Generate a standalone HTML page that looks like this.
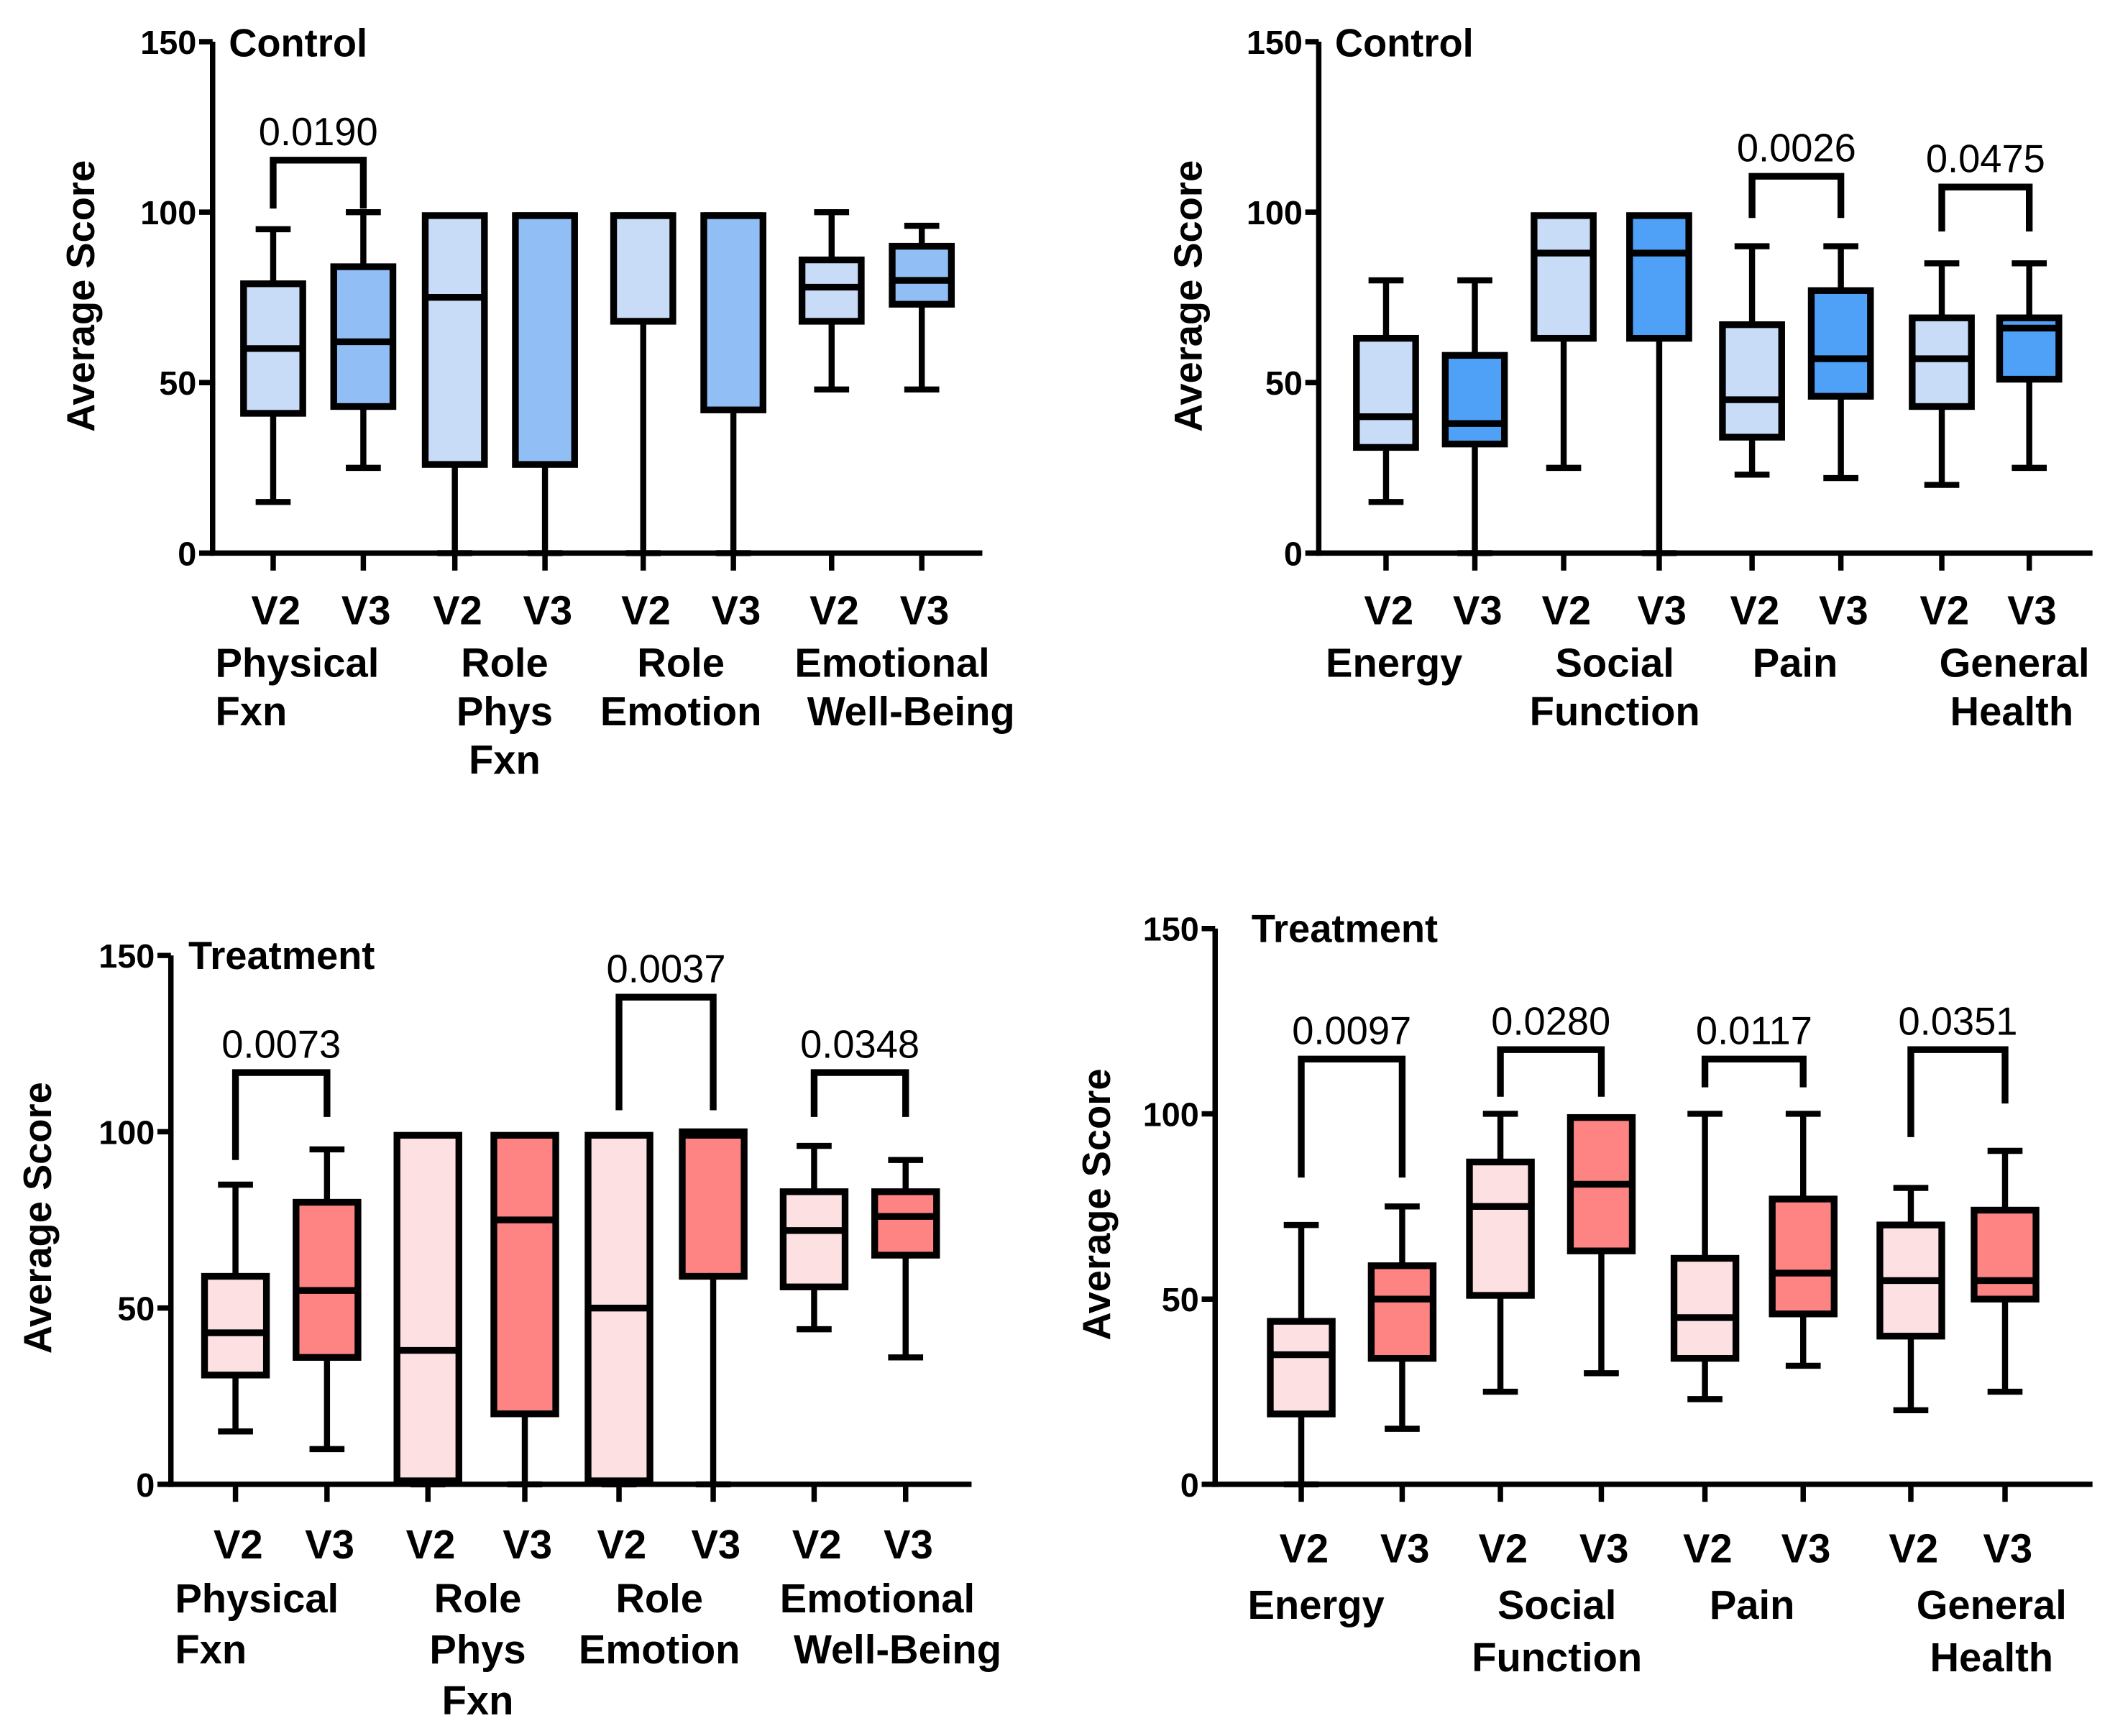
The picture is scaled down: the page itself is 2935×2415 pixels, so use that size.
<!DOCTYPE html>
<html><head><meta charset="utf-8"><style>
html,body{margin:0;padding:0;background:#fff}
svg{display:block}
text{font-family:"Liberation Sans",Arial,sans-serif}
</style></head><body>
<svg id="chart" width="2935" height="2415" viewBox="0 0 1568 1290" preserveAspectRatio="none" xmlns="http://www.w3.org/2000/svg"></svg>
<script>
// Panel 1: Control, first four domains
const p1Ticks = ["V2","V3","V2","V3","V2","V3","V2","V3"];
const p1Min = [15,25,0,0,0,0,48,48];
const p1Q1 = [41,43,26,26,68,42,68,73];
const p1Med = [60,62,75,99,99,99,78,80];
const p1Q3 = [79,84,99,99,99,99,86,90];
const p1Max = [95,100,99,99,99,99,100,96];
// Panel 2: Control, second four domains
const p2Min = [15,0,25,0,23,22,20,25];
const p2Q1 = [31,32,63,63,34,46,43,51];
const p2Med = [40,38,88,88,45,57,57,66];
const p2Q3 = [63,58,99,99,67,77,69,69];
const p2Max = [80,80,99,99,90,90,85,85];
// Panel 3: Treatment, first four domains
const p3Min = [15,10,0,0,0,0,44,36];
const p3Q1 = [31,36,1,20,1,59,56,65];
const p3Med = [43,55,38,75,50,99,72,76];
const p3Q3 = [59,80,99,99,99,100,83,83];
const p3Max = [85,95,99,99,99,100,96,92];
// Panel 4: Treatment, second four domains
const p4Min = [0,15,25,30,23,32,20,25];
const p4Q1 = [19,34,51,63,34,46,40,50];
const p4Med = [35,50,75,81,45,57,55,55];
const p4Q3 = [44,59,87,99,61,77,70,74];
const p4Max = [70,75,100,99,100,100,80,90];
const yTicks = [0,50,100,150];
const pvals1 = ["0.0190"], pvals2 = ["0.0026","0.0475"], pvals3 = ["0.0073","0.0037","0.0348"], pvals4 = ["0.0097","0.0280","0.0117","0.0351"];

const NS="http://www.w3.org/2000/svg";
const svg=document.getElementById('chart');
function mk(tag,attrs,parent,txt){const e=document.createElementNS(NS,tag);for(const k in attrs)e.setAttribute(k,attrs[k]);if(txt!==undefined)e.textContent=txt;(parent||svg).appendChild(e);return e;}

const panels=[
 {name:'control-panel-1',ax:158,y0:411,y150:31,xEnd:730,title:'Control',tx:170,ty:42,xs:[203,270,338,405,478,545,618,685],
  mins:p1Min,q1:p1Q1,med:p1Med,q3:p1Q3,max:p1Max,c2:'#c9dcf7',c3:'#91bff5',bw:44,
  ylabX:70,ylabY:220,tickLY:453,
  groups:[{l:['Physical','Fxn'],x:160,a:'start'},{l:['Role','Phys','Fxn'],x:375,a:'middle'},{l:['Role','Emotion'],x:506,a:'middle'},{l:['Emotional','Well-Being'],x:663,a:'middle',offs:[0,14]}],gy:492,gdy:36,
  sig:[{i:0,j:1,top:119,l1:155,l2:155,p:pvals1[0]}]},
 {name:'control-panel-2',ax:980,y0:411,y150:31,xEnd:1555,title:'Control',tx:992,ty:42,xs:[1030,1096,1162,1233,1302,1368,1443,1508],
  mins:p2Min,q1:p2Q1,med:p2Med,q3:p2Q3,max:p2Max,c2:'#c9dcf7',c3:'#4fa0f7',bw:44,
  ylabX:893,ylabY:220,tickLY:453,
  groups:[{l:['Energy'],x:1036,a:'middle'},{l:['Social','Function'],x:1200,a:'middle'},{l:['Pain'],x:1334,a:'middle'},{l:['General','Health'],x:1497,a:'middle',offs:[0,-2]}],gy:492,gdy:36,
  sig:[{i:4,j:5,top:131,l1:162,l2:162,p:pvals2[0]},{i:6,j:7,top:139,l1:172,l2:172,p:pvals2[1]}]},
 {name:'treatment-panel-1',ax:127,y0:1103,y150:710,xEnd:722,title:'Treatment',tx:140,ty:720,xs:[175,243,318,390,460,530,605,673],
  mins:p3Min,q1:p3Q1,med:p3Med,q3:p3Q3,max:p3Max,c2:'#fde0e2',c3:'#fe8383',bw:46,
  ylabX:38,ylabY:905,tickLY:1147,
  groups:[{l:['Physical','Fxn'],x:130,a:'start'},{l:['Role','Phys','Fxn'],x:355,a:'middle'},{l:['Role','Emotion'],x:490,a:'middle'},{l:['Emotional','Well-Being'],x:652,a:'middle',offs:[0,15]}],gy:1187,gdy:38,
  sig:[{i:0,j:1,top:797,l1:862,l2:830,p:pvals3[0]},{i:4,j:5,top:741,l1:825,l2:825,p:pvals3[1]},{i:6,j:7,top:797,l1:830,l2:830,p:pvals3[2]}]},
 {name:'treatment-panel-2',ax:903,y0:1103,y150:690,xEnd:1555,title:'Treatment',tx:930,ty:700,xs:[967,1042,1115,1190,1267,1340,1420,1490],
  mins:p4Min,q1:p4Q1,med:p4Med,q3:p4Q3,max:p4Max,c2:'#fde0e2',c3:'#fe8383',bw:46,
  ylabX:825,ylabY:895,tickLY:1150,
  groups:[{l:['Energy'],x:978,a:'middle'},{l:['Social','Function'],x:1157,a:'middle'},{l:['Pain'],x:1302,a:'middle'},{l:['General','Health'],x:1480,a:'middle'}],gy:1192,gdy:39,
  sig:[{i:0,j:1,top:787,l1:875,l2:875,p:pvals4[0]},{i:2,j:3,top:780,l1:815,l2:815,p:pvals4[1]},{i:4,j:5,top:787,l1:808,l2:808,p:pvals4[2]},{i:6,j:7,top:780,l1:845,l2:820,p:pvals4[3]}]}
];

panels.forEach(P=>{
  const g=mk('g',{});
  
  
  const y=v=>P.y0+(P.y150-P.y0)*v/150;
  P.xs.forEach((x,k)=>{
    const bg=mk('g',{},g);
    
    
    const cap=13,sw=4.5;
    mk('line',{x1:x,x2:x,y1:y(P.mins[k]),y2:y(P.q1[k]),stroke:'#000','stroke-width':sw},bg);
    mk('line',{x1:x,x2:x,y1:y(P.max[k]),y2:y(P.q3[k]),stroke:'#000','stroke-width':sw},bg);
    mk('line',{x1:x-cap,x2:x+cap,y1:y(P.mins[k]),y2:y(P.mins[k]),stroke:'#000','stroke-width':sw},bg);
    mk('line',{x1:x-cap,x2:x+cap,y1:y(P.max[k]),y2:y(P.max[k]),stroke:'#000','stroke-width':sw},bg);
    mk('rect',{x:x-P.bw/2,y:y(P.q3[k]),width:P.bw,height:y(P.q1[k])-y(P.q3[k]),fill:k%2?P.c3:P.c2,stroke:'#000','stroke-width':5},bg);
    mk('line',{x1:x-P.bw/2,x2:x+P.bw/2,y1:y(P.med[k]),y2:y(P.med[k]),stroke:'#000','stroke-width':5},bg);
  });
  const ya=mk('line',{x1:P.ax,x2:P.ax,y1:P.y0+2,y2:P.y150,stroke:'#000','stroke-width':4},g);
  
  const xa=mk('line',{x1:P.ax-2,x2:P.xEnd,y1:P.y0,y2:P.y0,stroke:'#000','stroke-width':4},g);
  
  yTicks.forEach(t=>{
    mk('line',{x1:P.ax-10,x2:P.ax,y1:y(t),y2:y(t),stroke:'#000','stroke-width':4},g);
    const tl=mk('text',{x:P.ax-12,y:y(t)+9,'text-anchor':'end','font-size':25,'font-weight':'bold'},g,String(t));
    
  });
  P.xs.forEach((x,k)=>{
    mk('line',{x1:x,x2:x,y1:P.y0,y2:P.y0+13,stroke:'#000','stroke-width':4},g);
    const tl=mk('text',{x:x+2,y:P.tickLY+11,'text-anchor':'middle','font-size':30,'font-weight':'bold'},g,p1Ticks[k]);
    
  });
  P.groups.forEach(G=>{
    G.l.forEach((s,i)=>{
      const off=G.offs?G.offs[i]||0:0;
      const t=mk('text',{x:G.x+off,y:P.gy+i*P.gdy+11,'text-anchor':G.a,'font-size':30,'font-weight':'bold'},g,s);
      
    });
  });
  const yt=mk('text',{x:P.ylabX,y:P.ylabY,'text-anchor':'middle','font-size':29,'font-weight':'bold',transform:`rotate(-90 ${P.ylabX} ${P.ylabY})`},g,'Average Score');
  
  const tt=mk('text',{x:P.tx,y:P.ty,'font-size':29,'font-weight':'bold'},g,P.title);
  
  P.sig.forEach(S=>{
    const x1=P.xs[S.i],x2=P.xs[S.j];
    const br=mk('path',{d:`M${x1},${S.l1} V${S.top} H${x2} V${S.l2}`,fill:'none',stroke:'#000','stroke-width':5},g);
    
    const pt=mk('text',{x:(x1+x2)/2,y:S.top-11,'text-anchor':'middle','font-size':29},g,S.p);
    
  });
});
</script>
</body></html>
